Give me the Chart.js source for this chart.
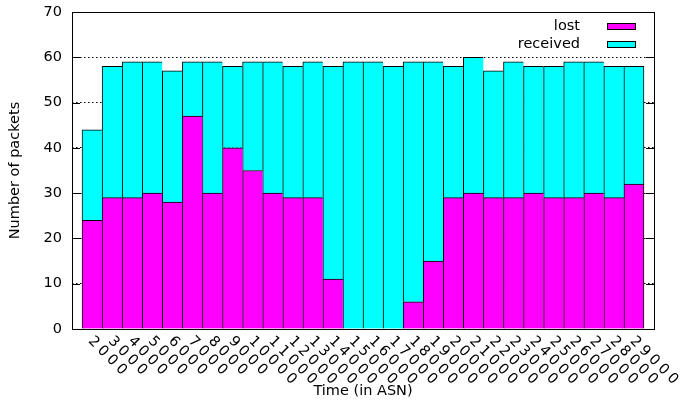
<!DOCTYPE html>
<html>
<head>
<meta charset="utf-8">
<script src="https://cdn.jsdelivr.net/npm/chart.js@4"></script>
<style>
  html, body { margin: 0; padding: 0; background: #fff; }
  #wrap { width: 680px; height: 401px; position: relative; }
</style>
</head>
<body>
<div id="wrap"><canvas id="packetChart"></canvas></div>
<script>
// Packets lost / received per ASN slot (stacked histogram)

const asnLabels = [
  '2000', '3000', '4000', '5000', '6000', '7000', '8000', '9000', '10000',
  '11000', '12000', '13000', '14000', '15000', '16000', '17000', '18000',
  '19000', '20000', '21000', '22000', '23000', '24000', '25000', '26000',
  '27000', '28000', '29000'
];

const lostPackets = [
  24, 29, 29, 30, 28, 47, 30, 40, 35, 30, 29, 29, 11, 0,
  0, 0, 6, 15, 29, 30, 29, 29, 30, 29, 29, 30, 29, 32
];

const receivedPackets = [
  20, 29, 30, 29, 29, 12, 29, 18, 24, 29, 29, 30, 47, 59,
  59, 58, 53, 44, 29, 30, 28, 30, 28, 29, 30, 29, 29, 26
];

const yTicks = [0, 10, 20, 30, 40, 50, 60, 70];

const FONT = '"DejaVu Sans", Verdana, sans-serif';
const FONT_SIZE = 14.5;

// --- Helpers ---
function toPoints(values) {
  return values.map((v, i) => ({ x: i, y: v }));
}

function barBorder(ctx) {
  const last = ctx.dataIndex === asnLabels.length - 1;
  return { top: 1, left: 1, right: last ? 1 : 0, bottom: 0 };
}

// the original rotated tick labels step each glyph by its full advance
// both across and down, so lay them out one character at a time
function drawSteppedLabel(ctx, text, x, y) {
  let step = 0;
  for (const ch of text) {
    ctx.save();
    ctx.translate(x + step, y + step);
    ctx.rotate(Math.PI / 4);
    ctx.fillText(ch, 0, 0);
    ctx.restore();
    step += ctx.measureText(ch).width;
  }
}

// --- Gnuplot-like decorations: box, inward ticks, rotated labels, key ---
const gnuplotDecor = {
  id: 'gnuplotDecor',
  afterDraw(chart) {
    const { ctx, chartArea: a, scales } = chart;
    const xs = scales.x;
    const ys = scales.y;
    ctx.save();

    // inward y tick marks on both sides
    ctx.strokeStyle = '#000';
    ctx.lineWidth = 1;
    ctx.beginPath();
    yTicks.forEach(v => {
      const y = Math.round(ys.getPixelForValue(v)) + 0.5;
      ctx.moveTo(a.left, y);
      ctx.lineTo(a.left + 8, y);
      ctx.moveTo(a.right, y);
      ctx.lineTo(a.right - 8, y);
    });
    ctx.stroke();

    // plot border
    ctx.strokeRect(Math.round(a.left) + 0.5, Math.round(a.top) + 0.5,
      Math.round(a.right - a.left), Math.round(a.bottom - a.top));

    // x labels
    ctx.fillStyle = '#000';
    ctx.font = FONT_SIZE + 'px ' + FONT;
    ctx.textAlign = 'center';
    ctx.textBaseline = 'middle';
    asnLabels.forEach((lab, i) => {
      drawSteppedLabel(ctx, lab, xs.getPixelForValue(i) + 1.5, a.bottom + 13);
    });

    // axis titles
    ctx.textAlign = 'center';
    ctx.textBaseline = 'alphabetic';
    ctx.fillText('Time (in ASN)', (a.left + a.right) / 2, 395);

    ctx.save();
    ctx.translate(15, (a.top + a.bottom) / 2);
    ctx.rotate(-Math.PI / 2);
    ctx.textBaseline = 'middle';
    ctx.fillText('Number of packets', 0, 0);
    ctx.restore();

    // key, top right inside the plot
    ctx.textAlign = 'right';
    ctx.textBaseline = 'middle';
    chart.data.datasets.forEach((ds, i) => {
      const y = a.top + 14 + i * 18;
      ctx.fillStyle = '#000';
      ctx.fillText(ds.label, a.right - 74, y);
      ctx.fillStyle = ds.backgroundColor;
      ctx.fillRect(a.right - 47, y - 3, 28, 6);
      ctx.strokeStyle = '#000';
      ctx.strokeRect(a.right - 46.5, y - 2.5, 28, 6);
    });

    ctx.restore();
  }
};

// --- Chart Setup ---
const chart = new Chart(document.getElementById('packetChart').getContext('2d'), {
  type: 'bar',
  data: {
    datasets: [
      {
        label: 'lost',
        data: toPoints(lostPackets),
        backgroundColor: '#ff00ff',
        borderColor: '#000',
        borderWidth: barBorder,
        borderSkipped: false,
        barPercentage: 1,
        categoryPercentage: 1
      },
      {
        label: 'received',
        data: toPoints(receivedPackets),
        backgroundColor: '#00ffff',
        borderColor: '#000',
        borderWidth: barBorder,
        borderSkipped: false,
        barPercentage: 1,
        categoryPercentage: 1
      }
    ]
  },
  options: {
    responsive: true,
    maintainAspectRatio: false,
    animation: false,
    layout: { padding: { top: 12, right: 26, bottom: 72, left: 0 } },
    plugins: {
      legend: { display: false },
      tooltip: { enabled: false }
    },
    scales: {
      x: {
        type: 'linear',
        stacked: true,
        offset: false,
        min: -1,
        max: 28,
        ticks: { display: false },
        grid: { display: false },
        border: { display: false },
        afterFit(scale) {
          scale.height = 0;
          scale.paddingLeft = 0;
          scale.paddingRight = 0;
        }
      },
      y: {
        stacked: true,
        min: 0,
        max: 70,
        ticks: {
          stepSize: 10,
          padding: 10,
          color: '#000',
          font: { family: FONT, size: FONT_SIZE }
        },
        grid: {
          drawTicks: false,
          lineWidth: 1,
          color: c => (c.tick.value === 0 || c.tick.value === 70) ? 'rgba(0,0,0,0)' : '#000'
        },
        border: { display: false, dash: [1.5, 2.5] },
        afterFit(scale) {
          scale.width = 72;
          scale.paddingTop = 0;
          scale.paddingBottom = 0;
        }
      }
    }
  },
  plugins: [gnuplotDecor]
});
</script>
</body>
</html>
